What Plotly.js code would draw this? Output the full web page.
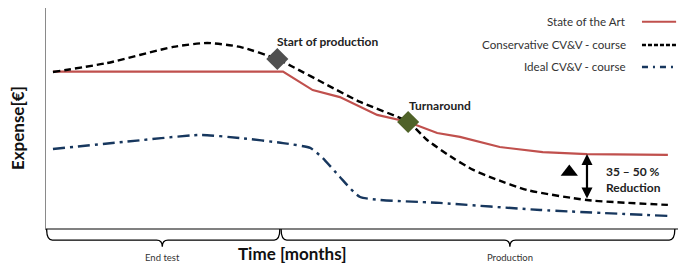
<!DOCTYPE html>
<html>
<head>
<meta charset="utf-8">
<script src="https://cdn.plot.ly/plotly-3.0.1.min.js"></script>
<style>html,body{margin:0;padding:0;background:#fff;}#chart{width:682px;height:265px;}</style>
</head>
<body>
<div id="chart"></div>
<script>
// Time axis (relative months, 0..100) and expense (relative, 0..100)
var stateX = [1.1, 37.5, 42.2, 46.5, 52.4, 57.3, 61.9, 65.5, 71.8, 78.6, 85.6, 98.4];
var stateY = [71.1, 71.1, 62.7, 59.5, 51.4, 48.2, 43.2, 41.4, 36.8, 34.5, 33.6, 33.2];

var consX = [1.1, 9.7, 20.1, 25.5, 30.7, 36.6, 39.1, 44.5, 49.7, 57.3, 60.3, 64.4, 67.6, 70.7, 76.1, 85.6, 98.4];
var consY = [70.9, 75.0, 82.3, 84.1, 82.3, 76.8, 73.2, 65.0, 57.3, 48.2, 40.0, 31.8, 26.4, 22.7, 17.3, 12.7, 10.5];

var idealX = [1.1, 12.2, 24.4, 30.7, 37.5, 41.8, 43.8, 46.5, 49.7, 62.3, 78.2, 98.4];
var idealY = [35.9, 39.1, 42.3, 40.9, 38.6, 36.4, 31.8, 23.2, 14.1, 11.4, 8.2, 5.5];

var seriesNames = ['State of the Art', 'Conservative CV&V - course', 'Ideal CV&V - course'];

var milestoneX = [36.6, 57.3];
var milestoneY = [76.8, 48.2];
var milestoneLabels = ['Start of production', 'Turnaround'];

var phaseStart = [0.1, 37.2];
var phaseEnd = [37.0, 99.5];
var phaseTip = [18.4, 73.4];
var phaseLabels = ['End test', 'Production'];

var gapX = 85.6;
var gapTop = 33.6;
var gapBottom = 12.7;
var gapLabel = ['35 – 50 %', 'Reduction'];

var FONT = 'Lato, "Open Sans", sans-serif';
var colors = ['#c0504d', '#000000', '#17375e'];
var dashes = ['solid', '7px,4px', '12px,5px,3px,5px'];
var legendDashes = ['solid', '4px,2px', '6px,5px,2px,5px'];

var traces = [
  {x: stateX, y: stateY, mode: 'lines', name: seriesNames[0], line: {color: colors[0], width: 2.2}},
  {x: consX, y: consY, mode: 'lines', name: seriesNames[1], line: {color: colors[1], width: 2.4, dash: dashes[1], shape: 'spline', smoothing: 0.6}},
  {x: idealX, y: idealY, mode: 'lines', name: seriesNames[2], line: {color: colors[2], width: 2.4, dash: dashes[2], shape: 'spline', smoothing: 0.5}},
  {x: milestoneX, y: milestoneY, mode: 'markers', marker: {symbol: 'diamond', size: 17, color: ['#505050', '#4f6228']}},
  {x: [82.8], y: [25.5], mode: 'markers', marker: {symbol: 'triangle-up', size: 15, color: '#000'}}
];

var annotations = [];
var shapes = [];
var labFont = {family: FONT, size: 12, color: '#222'};

// milestone labels
annotations.push({x: milestoneX[0] - 0.4, y: milestoneY[0] + 8.2, xref: 'x', yref: 'y', text: '<b>' + milestoneLabels[0] + '</b>', showarrow: false, xanchor: 'left', yanchor: 'middle', font: labFont});
annotations.push({x: milestoneX[1] - 0.2, y: milestoneY[1] + 7.7, xref: 'x', yref: 'y', text: '<b>' + milestoneLabels[1] + '</b>', showarrow: false, xanchor: 'left', yanchor: 'middle', font: labFont});

// reduction arrow
annotations.push({x: gapX, y: gapTop, ax: gapX, ay: gapBottom, xref: 'x', yref: 'y', axref: 'x', ayref: 'y', text: '', showarrow: true, arrowhead: 2, arrowsize: 1, arrowwidth: 2.2, arrowcolor: '#000', arrowside: 'end+start', standoff: 0, startstandoff: 0});
annotations.push({x: gapX + 2.7, y: 25.5, xref: 'x', yref: 'y', text: '<b>' + gapLabel[0] + '</b>', showarrow: false, xanchor: 'left', yanchor: 'middle', font: labFont});
annotations.push({x: gapX + 2.7, y: 18.6, xref: 'x', yref: 'y', text: '<b>' + gapLabel[1] + '</b>', showarrow: false, xanchor: 'left', yanchor: 'middle', font: labFont});

// legend (text on the left, sample on the right)
var legY = [0.938, 0.832, 0.732];
for (var i = 0; i < 3; i++) {
  annotations.push({x: 0.921, y: legY[i], xref: 'paper', yref: 'paper', text: seriesNames[i], showarrow: false, xanchor: 'right', yanchor: 'middle', font: {family: FONT, size: 11.6, color: '#333'}});
  shapes.push({type: 'line', xref: 'paper', yref: 'paper', x0: 0.943, x1: 0.997, y0: legY[i], y1: legY[i], line: {color: colors[i], width: i === 0 ? 2 : 2.6, dash: legendDashes[i]}});
}

// phase brackets below the time axis
var yTop = -0.005, yMid = -0.055, yBot = -0.085, d = 0.9;
for (var j = 0; j < phaseStart.length; j++) {
  var a = phaseStart[j], b = phaseEnd[j], t = phaseTip[j];
  var p = 'M' + a + ',' + yTop +
    ' Q' + a + ',' + yMid + ' ' + (a + d) + ',' + yMid +
    ' L' + (t - d) + ',' + yMid +
    ' Q' + t + ',' + yMid + ' ' + t + ',' + yBot +
    ' Q' + t + ',' + yMid + ' ' + (t + d) + ',' + yMid +
    ' L' + (b - d) + ',' + yMid +
    ' Q' + b + ',' + yMid + ' ' + b + ',' + yTop;
  shapes.push({type: 'path', xref: 'x', yref: 'paper', path: p, line: {color: '#000', width: 1.3}});
  annotations.push({x: t, y: -0.136, xref: 'x', yref: 'paper', text: phaseLabels[j], showarrow: false, xanchor: 'center', yanchor: 'middle', font: {family: FONT, size: 9.5, color: '#333'}});
}

// axis titles as annotations
annotations.push({x: 0.389, y: -0.118, xref: 'paper', yref: 'paper', text: '<b>Time [months]</b>', showarrow: false, xanchor: 'center', yanchor: 'middle', font: {family: FONT, size: 17, color: '#111'}});
annotations.push({x: -0.044, y: 0.455, xref: 'paper', yref: 'paper', text: '<b>Expense[€]</b>', showarrow: false, textangle: -90, xanchor: 'center', yanchor: 'middle', font: {family: FONT, size: 17, color: '#111'}});

var layout = {
  width: 682, height: 265,
  margin: {l: 46, r: 4, t: 8, b: 37},
  paper_bgcolor: '#fff', plot_bgcolor: '#fff',
  showlegend: false,
  xaxis: {range: [0, 100], showgrid: false, zeroline: false, showticklabels: false, ticks: '', showline: true, linecolor: '#808080', linewidth: 2, fixedrange: true},
  yaxis: {range: [0, 100], showgrid: false, zeroline: false, showticklabels: false, ticks: '', showline: true, linecolor: '#8a8a8a', linewidth: 1.5, fixedrange: true},
  annotations: annotations,
  shapes: shapes
};

Plotly.newPlot('chart', traces, layout, {displayModeBar: false, staticPlot: true});
</script>
</body>
</html>
